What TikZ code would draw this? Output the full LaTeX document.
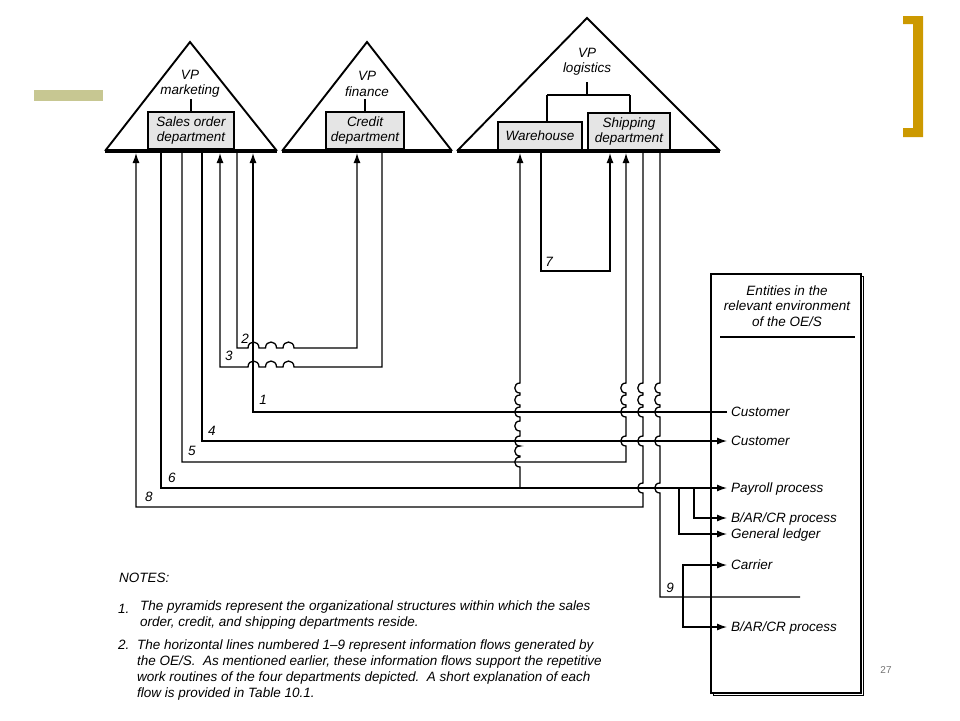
\documentclass[tikz,border=0pt]{standalone}
\usepackage{fontspec}
\setmainfont{Liberation Sans}
\usetikzlibrary{arrows.meta}

\definecolor{barolive}{RGB}{199,199,146}
\definecolor{bracketgold}{RGB}{204,153,0}
\newcommand{\fs}{\fontsize{13.5}{15.5}\selectfont}

\tikzset{
  flow/.style={line width=1.3pt},
  tip/.style={-{Latex[length=10pt,width=7pt]}},
  pyramid/.style={line width=1.9pt, line join=miter},
  pbase/.style={line width=3.5pt},
  dept/.style={draw, line width=1.7pt, fill=black!10, align=center, font=\itshape\fs, inner sep=0pt},
  vp/.style={align=center, font=\itshape\fs, inner sep=0pt},
  ent/.style={anchor=west, font=\itshape\fs, inner xsep=4pt, inner ysep=0pt, text height=9.5pt, text depth=0pt},
  num/.style={font=\itshape\fs, inner sep=0pt},
  note/.style={anchor=north west, font=\itshape\fontsize{13.5}{15.7}\selectfont, inner sep=0pt, align=left},
  vhump/.style={to path={.. controls +(-7,0) and +(-7,0) .. (\tikztotarget)}},
  hhump/.style={to path={.. controls +(0,-8) and +(0,-8) .. (\tikztotarget)}},
}

\begin{document}
\begin{tikzpicture}[x=1pt,y=-1pt]
\useasboundingbox (0,0) rectangle (960,720);
% slide decorations
\fill[barolive] (34,90) rectangle (103,101);
\fill[bracketgold] (913,16) rectangle (923,137) (903,16) rectangle (923,24) (903,128) rectangle (923,137);
\node[font=\fontsize{10}{12}\selectfont, text=black!55] (page) at (886,670) {27};

%  the three pyramids
\draw[pyramid] (105,151) -- (190,42) -- (277,151);
\draw[pyramid] (282,151) -- (367,42) -- (452,151);
\draw[pyramid] (457,151) -- (587,18) -- (720,151);
\node[vp] (vpm) at (190,84) {VP\\marketing};
\node[vp] (vpf) at (367,84) {VP\\finance};
\node[vp] (vpl) at (587,62) {VP\\logistics};
\node[dept, minimum width=86pt, minimum height=37pt] (sales) at (191,130.5) {Sales order\\department};
\node[dept, minimum width=78pt, minimum height=37pt] (credit) at (365,130.5) {Credit\\department};
\node[dept, minimum width=84pt, minimum height=28pt] (ware) at (540,136) {Warehouse};
\node[dept, minimum width=82pt, minimum height=37pt] (ship) at (629,131.5) {Shipping\\department};
\draw[flow] (sales.north) -- ++(0,-12);
\draw[flow] (credit.north) -- ++(0,-12);
\draw[flow] (587,82) -- (587,95) (547,95) -- (630,95) (547,95) -- (547,122) (630,95) -- (630,113);
\draw[pbase] (105,151) -- (277,151);
\draw[pbase] (282,151) -- (452,151);
\draw[pbase] (457,151) -- (720,151);

%  entities box
\draw[line width=1.6pt] (713.5,276.5) rectangle (863.5,695.5);
\draw[line width=1.3pt, fill=white] (711,274) rectangle (861,693);
\node[vp] (envt) at (787,306) {Entities in the\\relevant environment\\of the OE/S};
\draw[flow] (720,337) -- (855,337);
\node[ent] (cust1) at (727,412) {Customer};
\node[ent] (cust2) at (727,441) {Customer};
\node[ent] (pay) at (727,488) {Payroll process};
\node[ent] (bar1) at (727,518) {B/AR/CR process};
\node[ent] (gl) at (727,534) {General ledger};
\node[ent] (carrier) at (727,565) {Carrier};
\node[ent] (bar2) at (727,627) {B/AR/CR process};

% flow 1
\draw[flow,tip] (cust1.west) -- (253,412) -- (253,153);
\node[num] at (263,400) {1};
% flow 2
\draw[flow,tip] (237,153) -- (237,348) \foreach \x in {253.5,271,288.5} { -- (\x-5.5,348) to[hhump] (\x+5.5,348) } -- (357,348) -- (357,153);
\node[num] at (245,339) {2};
% flow 3
\draw[flow,tip] (382,153) -- (382,367) \foreach \x in {288.5,271,253.5} { -- (\x+5.5,367) to[hhump] (\x-5.5,367) } -- (220,367) -- (220,153);
\node[num] at (229,356) {3};
% flow 4
\draw[flow,tip] (202,153) -- (202,441) -- (cust2.west);
\node[num] at (212,431) {4};
% flow 5
\draw[flow,tip] (182,153) -- (182,462) -- (626,462) \foreach \y in {441,412,400,388} { -- (626,\y+5) to[vhump] (626,\y-5) } -- (626,153);
\node[num] at (192,451) {5};
% flow 6
\draw[flow,tip] (161,153) -- (161,488) -- (pay.west);
\draw[flow,tip] (520,488) \foreach \y in {462,451,441,426,412,400,388} { -- (520,\y+5) to[vhump] (520,\y-5) } -- (520,153);
\draw[flow,tip] (694,488) |- (bar1.west);
\draw[flow,tip] (679,488) |- (gl.west);
\node[num] at (172,478) {6};
% flow 7
\draw[flow,tip] (541,151) -- (541,271) -- (610,271) -- (610,153);
\node[num] at (549,262) {7};
% flow 8
\draw[flow,tip] (643,153) \foreach \y in {388,400,412,441,488} { -- (643,\y-5) to[vhump] (643,\y+5) } -- (643,507) -- (136,507) -- (136,153);
\node[num] at (149,497) {8};
% flow 9
\draw[flow] (660,153) \foreach \y in {388,400,412,441,488} { -- (660,\y-5) to[vhump] (660,\y+5) } -- (660,597) -- (800,597);
\draw[flow,tip] (683,597) |- (carrier.west);
\draw[flow,tip] (683,597) |- (bar2.west);
\node[num] at (670,588) {9};

%  notes
\node[note, anchor=base west] (notes) at (119,582) {NOTES:};
\node[note] (n1) at (118,604) {1.};
\node[note] (n1txt) at (140,601) {The pyramids represent the organizational structures within which the sales\\order, credit, and shipping departments reside.};
\node[note] (n2) at (118,640) {2.};
\node[note] (n2txt) at (137,640) {The horizontal lines numbered 1--9 represent information flows generated by\\the OE/S.\ \ As mentioned earlier, these information flows support the repetitive\\work routines of the four departments depicted.\ \ A short explanation of each\\flow is provided in Table 10.1.};
\end{tikzpicture}
\end{document}
